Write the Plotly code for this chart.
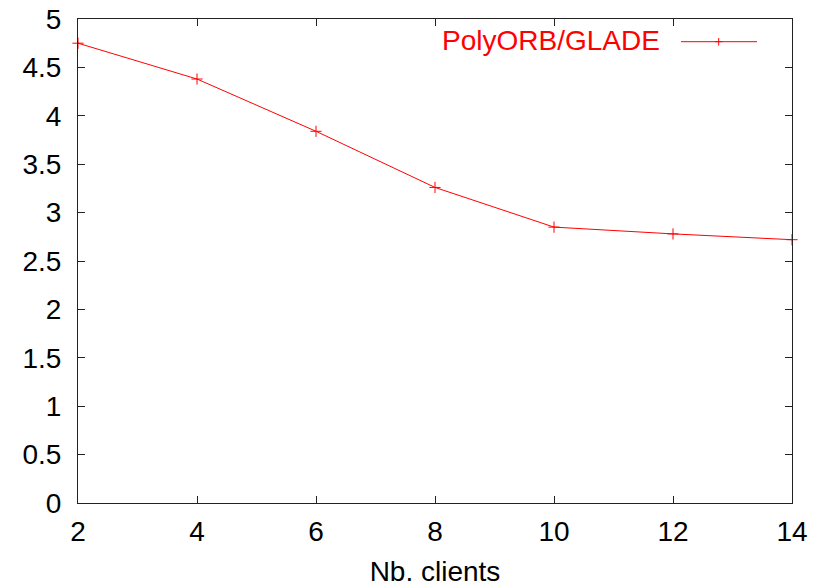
import plotly.graph_objects as go

# ---- data ----
clients = [2, 4, 6, 8, 10, 12, 14]
polyorb_glade = [4.75, 4.38, 3.84, 3.26, 2.85, 2.78, 2.72]
series_name = "PolyORB/GLADE"
x_title = "Nb. clients"
x_ticks = [2, 4, 6, 8, 10, 12, 14]
y_ticks = [0, 0.5, 1, 1.5, 2, 2.5, 3, 3.5, 4, 4.5, 5]
y_tick_text = ["0", "0.5", "1", "1.5", "2", "2.5", "3", "3.5", "4", "4.5", "5"]

# ---- layout constants ----
W, H = 820, 587
ML, MR, MT, MB = 78, 28, 19, 84
PW, PH = W - ML - MR, H - MT - MB
FONT = "Liberation Sans, Arial, Helvetica, sans-serif"
FS = 28
RED = "#ff0000"


def px_x(px):
    return (px - ML) / PW


def px_y(py):
    return (H - MB - py) / PH


fig = go.Figure()
fig.add_trace(go.Scatter(
    x=clients, y=polyorb_glade, mode="lines+markers", name=series_name,
    line=dict(color=RED, width=1),
    marker=dict(symbol="cross-thin", size=8, color=RED, line=dict(color=RED, width=1)),
    cliponaxis=False, showlegend=False,
))

axis_common = dict(
    showgrid=False, zeroline=False, showline=True, linecolor="#222222", linewidth=1,
    mirror="ticks", ticks="inside", ticklen=7, tickcolor="#222222", tickwidth=1,
    tickfont=dict(family=FONT, size=FS, color="black"), automargin=False,
)

fig.update_layout(
    width=W, height=H, autosize=False,
    margin=dict(l=ML, r=MR, t=MT, b=MB, pad=0, autoexpand=False),
    paper_bgcolor="white", plot_bgcolor="white",
    font=dict(family=FONT, size=FS, color="black"),
    xaxis=dict(range=[2, 14], tickvals=x_ticks, ticklabelstandoff=3,
               title=dict(text=x_title, font=dict(family=FONT, size=FS, color="black"), standoff=18),
               **axis_common),
    yaxis=dict(range=[0, 5], tickvals=y_ticks, ticktext=y_tick_text, ticklabelstandoff=10,
               **axis_common),
    showlegend=False,
)

# gnuplot-style key: text then line sample at top right
fig.add_annotation(
    xref="paper", yref="paper", x=px_x(662), y=px_y(40.5),
    xanchor="right", yanchor="middle", showarrow=False,
    text=series_name, font=dict(family=FONT, size=FS, color=RED),
)
fig.add_shape(type="line", xref="paper", yref="paper",
              x0=px_x(681), x1=px_x(757), y0=px_y(41.7), y1=px_y(41.7),
              line=dict(color=RED, width=1))
fig.add_shape(type="line", xref="paper", yref="paper",
              x0=px_x(718.7), x1=px_x(718.7), y0=px_y(38), y1=px_y(45.5),
              line=dict(color=RED, width=1))
fig.add_shape(type="line", xref="paper", yref="paper",
              x0=px_x(715), x1=px_x(722.5), y0=px_y(41.7), y1=px_y(41.7),
              line=dict(color=RED, width=1))

fig.write_html(
    "out.html",
    config={"displayModeBar": False},
    post_script="document.body.style.margin='0';document.body.style.overflow='hidden';",
)
